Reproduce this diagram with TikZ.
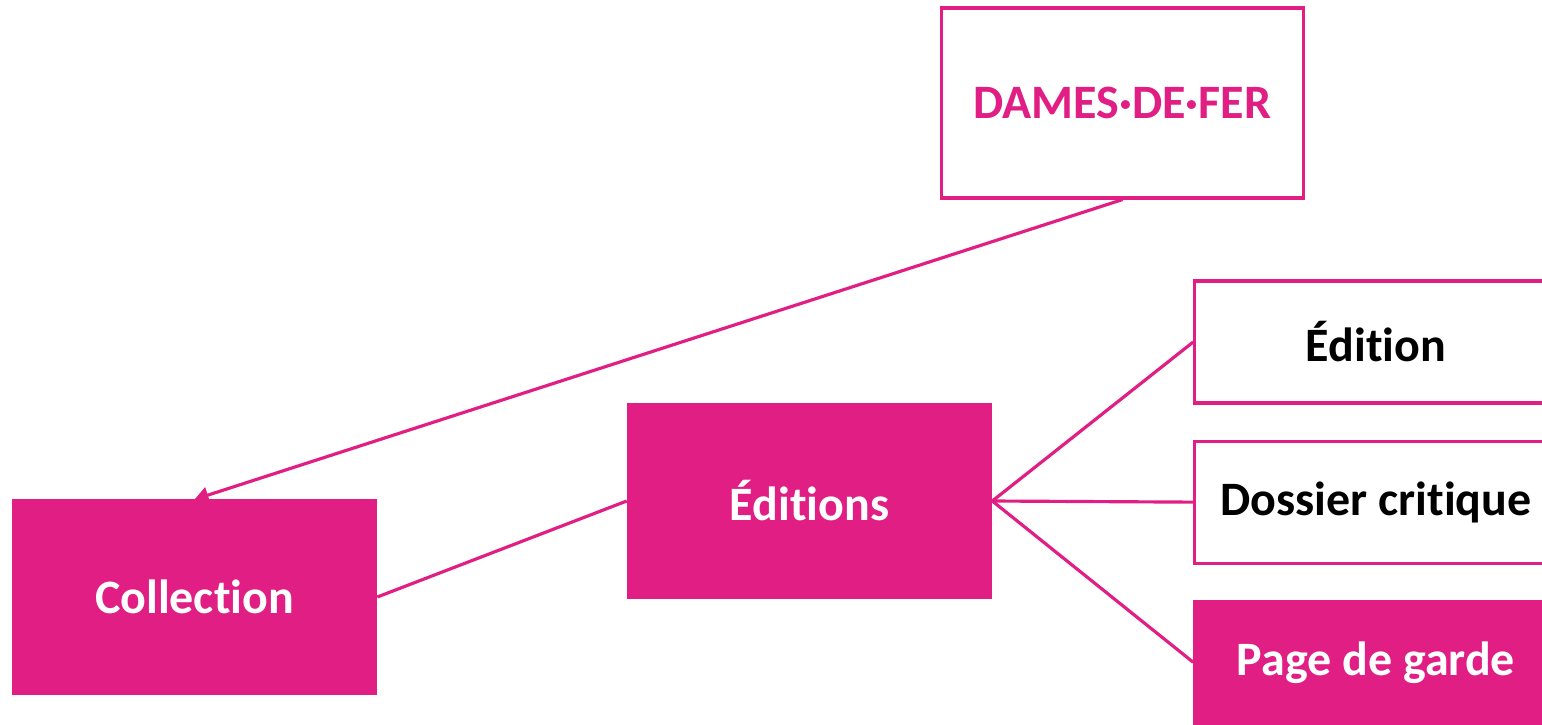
\documentclass[tikz,border=0pt]{standalone}
\usepackage{fontspec}
\setmainfont[Ligatures=NoCommon,Contextuals=NoAlternate]{Carlito}
\usepackage{tikz}
\usetikzlibrary{positioning,arrows.meta}
\definecolor{rose}{HTML}{E01E84}

\begin{document}
\begin{tikzpicture}[x=0.02cm,y=-0.02cm]

        % Define box and link styles
        \tikzstyle{box} = [rectangle, draw=rose, line width=1.8pt, minimum width=7.25cm, font=\bfseries\fontsize{27.3}{31}\selectfont]
        \tikzstyle{filled} = [box, fill=rose, text=white, minimum height=3.84cm]
        \tikzstyle{blank} = [box, fill=white, text=black, minimum height=2.44cm]
        \tikzstyle{link} = [draw=rose, line width=1.8pt]

        % Page frame
        \useasboundingbox (0,0) rectangle (1542,724);
        \clip (0,0) rectangle (1542,724);

        % Top box
        \node[blank, text=rose, minimum height=3.8cm] (dames) at (1122.5,103) {DAMES·DE·FER};

        % Main row
        \node[filled] (collection) at (194.5,597) {Collection};
        \node[filled] (editions) at (809.5,501) {Éditions};

        % Right column
        \node[blank] (edition) at (1376,342) {Édition};
        \node[blank, below=0.7cm of edition] (dossier) {Dossier critique};
        \node[filled, minimum height=2.44cm, below=0.7cm of dossier] (garde) {Page de garde};

        % Links
        \draw[link, -{Triangle}] (dames.south) -- (collection.north);
        \draw[link] (collection.east) -- (editions.west);
        \foreach \n in {edition,dossier,garde}
            \draw[link] (editions.east) -- (\n.west);

    \end{tikzpicture}
\end{document}
